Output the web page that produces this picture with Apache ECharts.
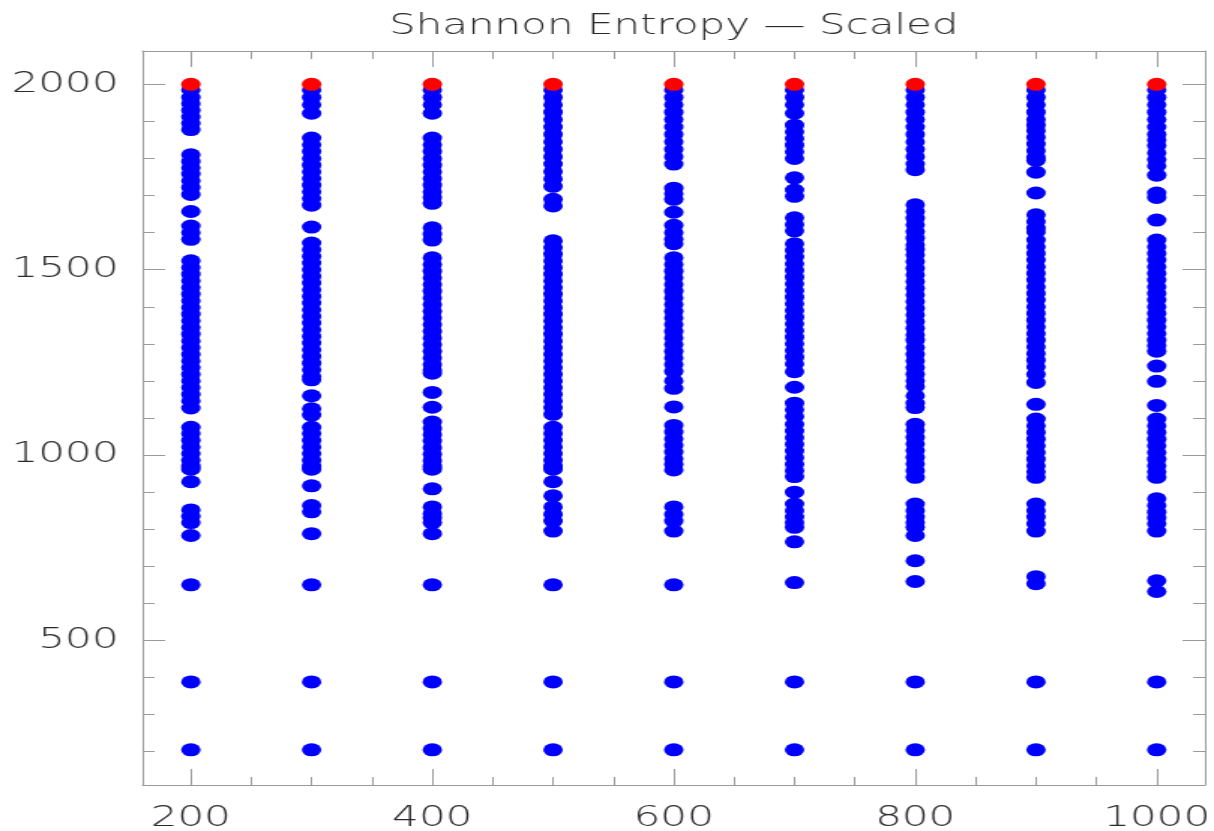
<!DOCTYPE html>
<html>
<head>
	<meta charset="UTF-8">
	<title>Shannon Entropy - Scaled</title>
	<style>
		html, body { margin: 0; padding: 0; background: #fff; overflow: hidden; }
		/* the reference is stretched sideways, so draw narrow and widen */
		#main { width: 809px; height: 831px; transform: scaleX(1.5006); transform-origin: 0 0; }
	</style>
</head>
<body>
	<div id="main"></div>

	<script src="https://cdn.jsdelivr.net/npm/echarts@6.0.0/dist/echarts.min.js"></script>
	<script>

	var titleText = 'Shannon Entropy \u2014 Scaled';
	var xValues = [200, 300, 400, 500, 600, 700, 800, 900, 1000];
	var xMajorTicks = [200, 400, 600, 800, 1000];
	var xMinorTicks = [250, 300, 350, 450, 500, 550, 650, 700, 750, 850, 900, 950];
	var yMajorTicks = [500, 1000, 1500, 2000];
	var yMinorTicks = [200, 300, 400, 600, 700, 800, 900, 1100, 1200, 1300, 1400, 1600, 1700, 1800, 1900];

	// red marks, one per column
	var redY = [2000, 2000, 2000, 2000, 2000, 2000, 2000, 2000, 2000];

	// blue marks, one list per column
	var blue200 = [1985, 1965, 1948, 1930, 1912, 1895, 1878, 1810, 1792, 1775, 1758, 1740, 1722, 1703, 1657, 1618, 1600, 1582,
		1524, 1506, 1488, 1470, 1452, 1434, 1416, 1398, 1380, 1362, 1344, 1326, 1308, 1290, 1272, 1254, 1236, 1218, 1200, 1182,
		1164, 1146, 1127, 1075, 1058, 1040, 1022, 1004, 986, 970, 962, 928, 852, 835, 818, 783, 650, 388, 205];
	var blue300 = [1985, 1965, 1945, 1922, 1855, 1837, 1819, 1800, 1782, 1764, 1746, 1728, 1710, 1692, 1674, 1615,
		1572, 1554, 1536, 1518, 1500, 1482, 1464, 1446, 1428, 1410, 1392, 1374, 1356, 1338, 1320, 1302, 1284, 1266, 1248, 1230,
		1212, 1203, 1160, 1125, 1108, 1075, 1058, 1040, 1022, 1004, 986, 970, 962, 917, 864, 847, 788, 650, 388, 205];
	var blue400 = [1985, 1965, 1945, 1922, 1855, 1837, 1819, 1800, 1782, 1764, 1746, 1728, 1710, 1695, 1679, 1613, 1596, 1580,
		1532, 1514, 1496, 1478, 1460, 1442, 1424, 1406, 1388, 1370, 1352, 1334, 1316, 1298, 1280, 1262, 1244, 1230, 1221,
		1169, 1129, 1089, 1072, 1055, 1038, 1020, 1002, 985, 970, 962, 909, 860, 842, 830, 818, 788, 650, 388, 205];
	var blue500 = [1985, 1965, 1945, 1925, 1905, 1885, 1865, 1845, 1825, 1805, 1785, 1765, 1745, 1725, 1690, 1672,
		1578, 1560, 1542, 1524, 1506, 1488, 1470, 1452, 1434, 1416, 1398, 1380, 1362, 1344, 1326, 1308, 1290, 1272, 1254, 1236,
		1218, 1200, 1182, 1164, 1146, 1128, 1110, 1075, 1058, 1040, 1022, 1004, 986, 970, 962, 928, 890, 860, 840, 822, 795,
		650, 388, 205];
	var blue600 = [1985, 1965, 1945, 1925, 1905, 1885, 1865, 1845, 1825, 1805, 1785, 1720, 1705, 1690, 1655, 1620, 1600,
		1582, 1570, 1532, 1514, 1496, 1478, 1460, 1442, 1424, 1406, 1388, 1370, 1352, 1334, 1316, 1298, 1280, 1262, 1244, 1226,
		1200, 1180, 1130, 1080, 1062, 1044, 1026, 1008, 990, 975, 960, 860, 840, 822, 795, 650, 388, 205];
	var blue700 = [1985, 1965, 1945, 1922, 1890, 1872, 1854, 1836, 1818, 1800, 1748, 1715, 1698, 1640, 1622, 1605,
		1570, 1552, 1534, 1516, 1498, 1480, 1462, 1444, 1426, 1408, 1390, 1372, 1354, 1336, 1318, 1300, 1282, 1264, 1246, 1225,
		1183, 1140, 1122, 1104, 1083, 1065, 1047, 1029, 1011, 993, 975, 958, 942, 900, 868, 850, 833, 818, 805, 766, 656,
		388, 205];
	var blue800 = [1985, 1965, 1945, 1925, 1905, 1885, 1865, 1845, 1825, 1805, 1785, 1770, 1675, 1657, 1639, 1621, 1603,
		1585, 1567, 1555, 1540, 1522, 1504, 1486, 1468, 1450, 1432, 1414, 1396, 1378, 1360, 1342, 1324, 1310, 1290, 1272, 1254,
		1236, 1218, 1200, 1185, 1160, 1140, 1128, 1083, 1066, 1048, 1030, 1012, 994, 976, 958, 940, 868, 850, 833, 818,
		805, 783, 715, 659, 388, 205];
	var blue900 = [1985, 1965, 1945, 1925, 1905, 1890, 1875, 1857, 1839, 1821, 1803, 1795, 1763, 1707, 1648, 1630, 1612,
		1602, 1580, 1562, 1544, 1526, 1508, 1490, 1472, 1454, 1436, 1418, 1400, 1382, 1364, 1346, 1328, 1310, 1292, 1274, 1256,
		1238, 1218, 1196, 1137, 1097, 1079, 1061, 1043, 1025, 1007, 989, 971, 955, 940, 868, 850, 833, 815, 795, 672, 653,
		388, 205];
	var blue1000 = [1985, 1965, 1945, 1925, 1905, 1885, 1865, 1850, 1835, 1815, 1797, 1780, 1755, 1707, 1695, 1634,
		1580, 1562, 1544, 1526, 1508, 1490, 1472, 1454, 1436, 1418, 1400, 1382, 1364, 1346, 1328, 1310, 1295, 1280, 1240, 1199,
		1134, 1097, 1079, 1061, 1043, 1025, 1007, 989, 971, 955, 940, 882, 864, 846, 830, 815, 795, 661, 632, 388, 205];

	var blueColumns = [blue200, blue300, blue400, blue500, blue600, blue700, blue800, blue900, blue1000];

	var axisGray = '#9a9a9a';
	var textColor = '#2a2a2a';
	var fontName = 'DejaVu Sans';

	// one frame axis: line + ticks at the given values, labels optional
	function frameAxis(kind, pos, ticks, tickLen, withLine, withLabels) {
		var axis = {
			type: 'value',
			position: pos,
			min: kind == 'x' ? 160 : 110,
			max: kind == 'x' ? 1040 : 2090,
			axisLine: { show: withLine, lineStyle: { color: axisGray, width: 1 } },
			axisTick: { show: true, inside: true, length: tickLen, customValues: ticks, lineStyle: { color: axisGray, width: 1 } },
			axisLabel: { show: false },
			splitLine: { show: false }
		};
		if (withLabels) {
			axis.axisLabel = {
				show: true,
				customValues: ticks,
				margin: kind == 'x' ? 20 : 16,
				fontSize: 28,
				fontWeight: 300,
				fontFamily: fontName,
				color: textColor,
				formatter: function (v) { return String(v); }
			};
		}
		return axis;
	}

	var blueData = [];
	var redData = [];
	for (var i = 0; i < xValues.length; i++) {
		var col = blueColumns[i];
		for (var j = 0; j < col.length; j++) {
			blueData.push([xValues[i], col[j]]);
		}
		redData.push([xValues[i], redY[i]]);
	}

	var option = {
		animation: false,
		backgroundColor: '#ffffff',
		title: {
			text: titleText,
			left: 449,
			top: 13,
			padding: 0,
			textAlign: 'center',
			textStyle: { fontSize: 28, fontWeight: 300, fontFamily: fontName, color: textColor }
		},
		grid: { left: 95, right: 6, top: 51, bottom: 46, containLabel: false, outerBoundsMode: 'none' },
		xAxis: [
			frameAxis('x', 'bottom', xMajorTicks, 16, true, true),
			frameAxis('x', 'bottom', xMinorTicks, 8, false, false),
			frameAxis('x', 'top', xMajorTicks, 16, true, false),
			frameAxis('x', 'top', xMinorTicks, 8, false, false)
		],
		yAxis: [
			frameAxis('y', 'left', yMajorTicks, 15, true, true),
			frameAxis('y', 'left', yMinorTicks, 8, false, false),
			frameAxis('y', 'right', yMajorTicks, 15, true, false),
			frameAxis('y', 'right', yMinorTicks, 8, false, false)
		],
		series: [
			{
				name: 'blue',
				type: 'scatter',
				xAxisIndex: 0,
				yAxisIndex: 0,
				symbol: 'circle',
				symbolSize: 13,
				itemStyle: { color: '#0000ff', opacity: 1 },
				data: blueData
			},
			{
				name: 'red',
				type: 'scatter',
				xAxisIndex: 0,
				yAxisIndex: 0,
				symbol: 'circle',
				symbolSize: 13,
				itemStyle: { color: '#ff0000', opacity: 1 },
				data: redData
			}
		]
	};

	var myChart = echarts.init(document.getElementById('main'));
	myChart.setOption(option);

	</script>
</body>
</html>
